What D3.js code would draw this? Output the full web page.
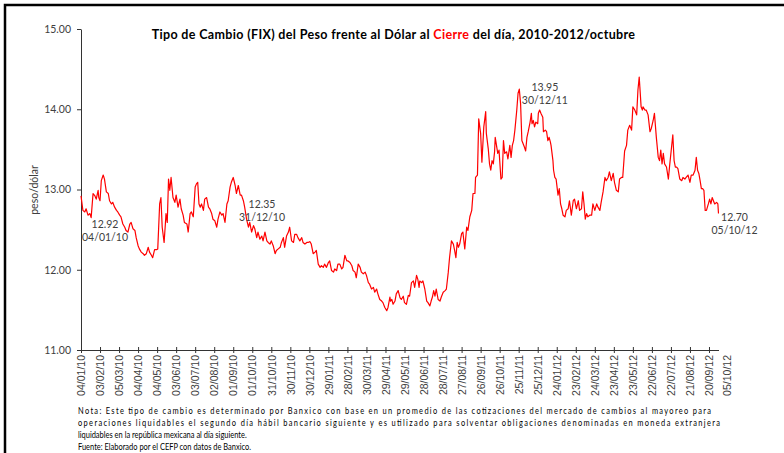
<!DOCTYPE html>
<html>
<head>
<meta charset="utf-8">
<script src="https://cdn.jsdelivr.net/npm/d3@7"></script>
<style>
  body { margin: 0; background: #fff; }
  svg { display: block; font-family: Lato, "Open Sans", sans-serif; }
</style>
</head>
<body>
<div id="chart"></div>
<script>
//DATA (dd/mm/yy, pesos por dólar)
const dates2010 = ["04/01/10","07/01/10","10/01/10","12/01/10","15/01/10","18/01/10","20/01/10","23/01/10","26/01/10","28/01/10","31/01/10","01/02/10","03/02/10","05/02/10","08/02/10","10/02/10","13/02/10","16/02/10","18/02/10","21/02/10","23/02/10","26/02/10","01/03/10","03/03/10","06/03/10","08/03/10","11/03/10","14/03/10","16/03/10","19/03/10","22/03/10","24/03/10","27/03/10","30/03/10","01/04/10","04/04/10","06/04/10","09/04/10","12/04/10","14/04/10","17/04/10","20/04/10","22/04/10","25/04/10","27/04/10","30/04/10","03/05/10","05/05/10","08/05/10","10/05/10","12/05/10","15/05/10","17/05/10","18/05/10","20/05/10","22/05/10","24/05/10","26/05/10","29/05/10","01/06/10","03/06/10","06/06/10","09/06/10","11/06/10","14/06/10","16/06/10","20/06/10","22/06/10","25/06/10","27/06/10","30/06/10","03/07/10","05/07/10","07/07/10","09/07/10","11/07/10","13/07/10","16/07/10","18/07/10","21/07/10","24/07/10","26/07/10","29/07/10","31/07/10","03/08/10","06/08/10","08/08/10","11/08/10","14/08/10","16/08/10","19/08/10","22/08/10","24/08/10","27/08/10","29/08/10","01/09/10","04/09/10","06/09/10","09/09/10","12/09/10","14/09/10","17/09/10","19/09/10","22/09/10","25/09/10","27/09/10","30/09/10","03/10/10","05/10/10","08/10/10","10/10/10","13/10/10","16/10/10","18/10/10","21/10/10","24/10/10","26/10/10","29/10/10","31/10/10","03/11/10","06/11/10","08/11/10","11/11/10","14/11/10","16/11/10","19/11/10","21/11/10","24/11/10","27/11/10","29/11/10","02/12/10","05/12/10","07/12/10","10/12/10","12/12/10","15/12/10","18/12/10","20/12/10","23/12/10","26/12/10","28/12/10","31/12/10"];
const values2010 = [12.92,12.74,12.72,12.76,12.68,12.70,12.65,12.95,12.92,12.88,12.99,12.90,12.86,13.11,13.18,13.13,12.97,12.95,12.86,12.82,12.84,12.78,12.74,12.72,12.68,12.66,12.57,12.53,12.49,12.47,12.57,12.59,12.51,12.49,12.40,12.30,12.26,12.22,12.20,12.18,12.20,12.28,12.22,12.18,12.15,12.25,12.25,12.26,12.82,12.90,12.53,12.34,12.57,12.70,12.59,13.13,12.99,13.15,12.90,12.84,12.93,12.78,12.88,12.76,12.68,12.59,12.57,12.47,12.70,12.72,12.66,13.03,13.07,13.09,12.82,12.78,12.82,12.74,12.88,12.90,12.78,12.76,12.70,12.63,12.61,12.53,12.63,12.72,12.68,12.70,12.59,12.82,12.86,13.03,13.09,13.15,13.05,12.95,13.05,12.93,12.93,12.86,12.78,12.63,12.53,12.59,12.47,12.55,12.51,12.40,12.47,12.38,12.42,12.36,12.47,12.36,12.34,12.32,12.36,12.30,12.20,12.24,12.26,12.28,12.34,12.40,12.28,12.42,12.47,12.53,12.36,12.34,12.44,12.44,12.40,12.36,12.40,12.34,12.32,12.34,12.34,12.35];

const dates2011 = ["02/01/11","05/01/11","08/01/11","10/01/11","13/01/11","16/01/11","18/01/11","21/01/11","23/01/11","26/01/11","29/01/11","31/01/11","03/02/11","06/02/11","08/02/11","11/02/11","13/02/11","16/02/11","19/02/11","21/02/11","24/02/11","27/02/11","01/03/11","04/03/11","07/03/11","09/03/11","12/03/11","14/03/11","17/03/11","20/03/11","22/03/11","25/03/11","28/03/11","30/03/11","02/04/11","04/04/11","07/04/11","10/04/11","12/04/11","15/04/11","17/04/11","20/04/11","23/04/11","25/04/11","28/04/11","01/05/11","03/05/11","06/05/11","07/05/11","09/05/11","11/05/11","14/05/11","16/05/11","19/05/11","22/05/11","24/05/11","27/05/11","29/05/11","01/06/11","04/06/11","06/06/11","09/06/11","12/06/11","14/06/11","17/06/11","19/06/11","21/06/11","22/06/11","25/06/11","27/06/11","30/06/11","03/07/11","05/07/11","08/07/11","10/07/11","12/07/11","14/07/11","16/07/11","18/07/11","21/07/11","24/07/11","26/07/11","29/07/11","01/08/11","03/08/11","06/08/11","08/08/11","11/08/11","14/08/11","16/08/11","18/08/11","20/08/11","22/08/11","24/08/11","27/08/11","29/08/11","01/09/11","04/09/11","06/09/11","09/09/11","12/09/11","14/09/11","17/09/11","18/09/11","21/09/11","23/09/11","26/09/11","28/09/11","01/10/11","04/10/11","05/10/11","08/10/11","10/10/11","12/10/11","14/10/11","16/10/11","18/10/11","19/10/11","23/10/11","25/10/11","28/10/11","30/10/11","01/11/11","03/11/11","06/11/11","08/11/11","11/11/11","13/11/11","15/11/11","17/11/11","19/11/11","22/11/11","24/11/11","26/11/11","28/11/11","30/11/11","04/12/11","06/12/11","08/12/11","10/12/11","13/12/11","15/12/11","16/12/11","18/12/11","20/12/11","22/12/11","25/12/11","26/12/11","28/12/11","30/12/11"];
const values2011 = [12.32,12.20,12.22,12.24,12.07,12.03,12.05,12.03,12.07,12.03,12.09,12.11,11.99,11.97,12.01,11.99,12.07,12.07,12.01,12.03,12.18,12.11,12.11,12.09,12.05,11.99,11.97,11.90,12.07,12.03,11.97,11.95,11.97,11.93,11.84,11.82,11.76,11.78,11.72,11.76,11.70,11.63,11.61,11.59,11.53,11.49,11.53,11.66,11.61,11.63,11.57,11.61,11.70,11.74,11.65,11.63,11.67,11.59,11.57,11.68,11.67,11.84,11.86,11.78,11.93,11.88,11.78,11.86,11.84,11.86,11.76,11.61,11.59,11.55,11.61,11.66,11.74,11.67,11.76,11.63,11.61,11.66,11.72,11.74,11.76,11.97,12.15,12.36,12.32,12.24,12.15,12.34,12.28,12.32,12.45,12.47,12.26,12.53,12.49,12.66,12.74,12.95,12.95,13.15,13.18,13.88,13.70,13.34,13.78,13.97,13.70,13.51,13.32,13.24,13.36,13.32,13.47,13.65,13.45,13.49,13.13,13.15,13.61,13.45,13.47,13.38,13.55,13.40,13.55,13.61,13.74,13.99,14.20,14.25,14.07,13.61,13.53,13.48,13.65,13.72,13.84,13.95,13.82,13.86,13.78,13.84,13.82,13.95,13.99,13.95];

const dates2012 = ["02/01/12","03/01/12","06/01/12","08/01/12","10/01/12","12/01/12","14/01/12","15/01/12","18/01/12","19/01/12","21/01/12","23/01/12","26/01/12","28/01/12","30/01/12","01/02/12","03/02/12","06/02/12","08/02/12","11/02/12","13/02/12","16/02/12","19/02/12","21/02/12","24/02/12","27/02/12","29/02/12","03/03/12","05/03/12","07/03/12","09/03/12","11/03/12","13/03/12","16/03/12","19/03/12","21/03/12","24/03/12","27/03/12","29/03/12","01/04/12","03/04/12","06/04/12","09/04/12","11/04/12","14/04/12","16/04/12","19/04/12","22/04/12","24/04/12","27/04/12","30/04/12","02/05/12","05/05/12","07/05/12","10/05/12","13/05/12","15/05/12","18/05/12","21/05/12","23/05/12","26/05/12","29/05/12","31/05/12","02/06/12","03/06/12","05/06/12","07/06/12","08/06/12","11/06/12","13/06/12","16/06/12","19/06/12","21/06/12","24/06/12","26/06/12","29/06/12","02/07/12","04/07/12","06/07/12","08/07/12","10/07/12","12/07/12","15/07/12","18/07/12","20/07/12","23/07/12","25/07/12","27/07/12","29/07/12","31/07/12","02/08/12","05/08/12","08/08/12","10/08/12","13/08/12","15/08/12","18/08/12","21/08/12","23/08/12","26/08/12","29/08/12","31/08/12","02/09/12","04/09/12","06/09/12","08/09/12","10/09/12","12/09/12","14/09/12","16/09/12","19/09/12","21/09/12","23/09/12","25/09/12","27/09/12","29/09/12","02/10/12","04/10/12","05/10/12"];
const values2012 = [13.90,13.72,13.74,13.72,13.61,13.65,13.59,13.55,13.36,13.24,13.15,13.13,12.93,13.01,12.82,12.76,12.68,12.66,12.74,12.76,12.86,12.68,12.86,12.88,12.76,12.86,12.74,12.76,12.97,12.82,12.63,12.70,12.66,12.68,12.68,12.82,12.74,12.82,12.78,12.74,12.84,12.97,13.15,13.11,13.15,13.22,13.11,13.20,13.09,12.99,12.97,13.13,13.15,13.15,13.48,13.55,13.74,13.80,13.74,14.03,13.99,13.93,14.24,14.40,14.28,14.03,13.99,14.03,13.99,13.99,13.93,13.72,13.76,13.86,13.95,13.65,13.40,13.36,13.49,13.32,13.45,13.32,13.28,13.13,13.30,13.53,13.68,13.36,13.28,13.28,13.26,13.13,13.11,13.15,13.13,13.15,13.18,13.09,13.18,13.18,13.24,13.40,13.24,13.20,13.11,13.01,13.01,12.99,12.74,12.74,12.82,12.88,12.82,12.90,12.86,12.82,12.84,12.82,12.70];

//AXIS LABELS
const tickLabels = ["04/01/10","03/02/10","05/03/10","04/04/10","04/05/10","03/06/10","03/07/10","02/08/10","01/09/10","01/10/10","31/10/10","30/11/10","30/12/10","29/01/11","28/02/11","30/03/11","29/04/11","29/05/11","28/06/11","28/07/11","27/08/11","26/09/11","26/10/11","25/11/11","25/12/11","24/01/12","23/02/12","24/03/12","23/04/12","23/05/12","22/06/12","22/07/12","21/08/12","20/09/12","05/10/12"];
const yTicks = [11, 12, 13, 14, 15];

//CALLOUTS
const calloutDates = ["04/01/10", "31/12/10", "30/12/11", "05/10/12"];
const calloutValues = [12.92, 12.35, 13.95, 12.70];

const noteLines = [
  "Nota: Este tipo de cambio es determinado por Banxico con base en un promedio de las cotizaciones del mercado de cambios al mayoreo para",
  "operaciones liquidables el segundo día hábil bancario siguiente y es utilizado para solventar obligaciones denominadas en moneda extranjera",
  "liquidables en la república mexicana al día siguiente.",
  "Fuente: Elaborado por el CEFP con datos de Banxico."
];

//DIMENSIONS
const WIDTH = 784, HEIGHT = 453;
const PLOT = { left: 81, right: 718.5, top: 29, bottom: 350 };
const TEXT = "#404040";

const parse = d3.timeParse("%d/%m/%y");

const data = []
  .concat(dates2010.map((d, i) => ({ date: parse(d), value: values2010[i] })))
  .concat(dates2011.map((d, i) => ({ date: parse(d), value: values2011[i] })))
  .concat(dates2012.map((d, i) => ({ date: parse(d), value: values2012[i] })));

let svg = d3.select("#chart").append("svg")
  .attr("width", WIDTH)
  .attr("height", HEIGHT);

//Frame
svg.append("rect")
  .attr("x", 5).attr("y", 5)
  .attr("width", WIDTH).attr("height", HEIGHT)
  .attr("fill", "none")
  .attr("stroke", "#000")
  .attr("stroke-width", 2.5);

//Scales
const xScale = d3.scaleTime()
  .domain([parse(tickLabels[0]), parse(tickLabels[tickLabels.length - 1])])
  .range([PLOT.left, PLOT.right]);
const yScale = d3.scaleLinear().domain([11, 15]).range([PLOT.bottom, PLOT.top]);

//Y-AXIS
const yAxis = svg.append("g")
  .attr("transform", `translate(${PLOT.left},0)`)
  .call(d3.axisLeft(yScale).tickValues(yTicks).tickFormat(d3.format(".2f"))
    .tickSize(4).tickSizeOuter(0).tickPadding(6));
yAxis.selectAll("path, line").attr("stroke", "#333");
yAxis.selectAll("text").attr("fill", TEXT).style("font-size", "10.5px").style("font-family", "Lato");

svg.append("text")
  .attr("transform", "translate(38,190) rotate(-90)")
  .attr("text-anchor", "middle")
  .attr("fill", TEXT)
  .style("font-size", "10.5px")
  .text("peso/dólar");

//X-AXIS
const xAxis = svg.append("g")
  .attr("transform", `translate(0,${PLOT.bottom})`)
  .call(d3.axisBottom(xScale).tickValues(tickLabels.slice(0, -1).map(parse))
    .tickSize(3).tickSizeOuter(0).tickFormat(""));
xAxis.selectAll("path, line").attr("stroke", "#333");
xAxis.selectAll(".tick line").attr("y1", -3);

xAxis.selectAll(".xlab")
  .data(tickLabels)
  .join("text")
  .attr("class", "xlab")
  .attr("transform", (d, i) =>
    `translate(${xScale(parse(d)) + (i === tickLabels.length - 1 ? 8 : 0)},5) rotate(-90)`)
  .attr("dy", "0.4em")
  .attr("text-anchor", "end")
  .attr("fill", TEXT)
  .style("font-size", "10.5px")
  .text((d) => d);

//LINE
svg.append("path")
  .datum(data)
  .attr("fill", "none")
  .attr("stroke", "#ff0000")
  .attr("stroke-width", 1.2)
  .attr("stroke-linejoin", "round")
  .attr("d", d3.line().x((d) => xScale(d.date)).y((d) => yScale(d.value)));

//Callouts
const calloutOffsets = [[24, 32], [-48, -34], [4, -22], [16, 7]];
calloutDates.forEach((d, i) => {
  const cx = xScale(parse(d)) + calloutOffsets[i][0];
  const cy = yScale(calloutValues[i]) + calloutOffsets[i][1];
  const t = svg.append("text")
    .attr("text-anchor", "middle")
    .attr("fill", TEXT)
    .style("font-size", "10.5px");
  t.append("tspan").attr("x", cx).attr("y", cy).text(calloutValues[i].toFixed(2));
  t.append("tspan").attr("x", cx).attr("y", cy + 13).text(d);
});

//Title
const title = svg.append("text")
  .attr("x", 393.5).attr("y", 39)
  .attr("text-anchor", "middle")
  .style("font-size", "12.5px")
  .style("font-weight", "bold")
  .style("letter-spacing", "0.35px")
  .attr("fill", "#000");
title.append("tspan").text("Tipo de Cambio (FIX) del Peso frente al Dólar al ");
title.append("tspan").attr("fill", "#ff0000").text("Cierre");
title.append("tspan").text(" del día, 2010-2012/octubre");

//Notes (narrow face: squeeze horizontally, justify the first two lines)
const NOTE_SQUEEZE = 0.83;
const noteY = [414, 426, 438.5, 450];
const noteWidth = [633, 642, null, null];
const notes = svg.append("g")
  .attr("transform", `translate(78,0) scale(${NOTE_SQUEEZE},1)`);
noteLines.forEach((line, i) => {
  const t = notes.append("text")
    .attr("x", 0).attr("y", noteY[i])
    .attr("fill", "#000")
    .style("font-size", "9px")
    .text(line);
  if (noteWidth[i]) {
    t.attr("textLength", noteWidth[i] / NOTE_SQUEEZE).attr("lengthAdjust", "spacing");
  }
});
</script>
</body>
</html>
